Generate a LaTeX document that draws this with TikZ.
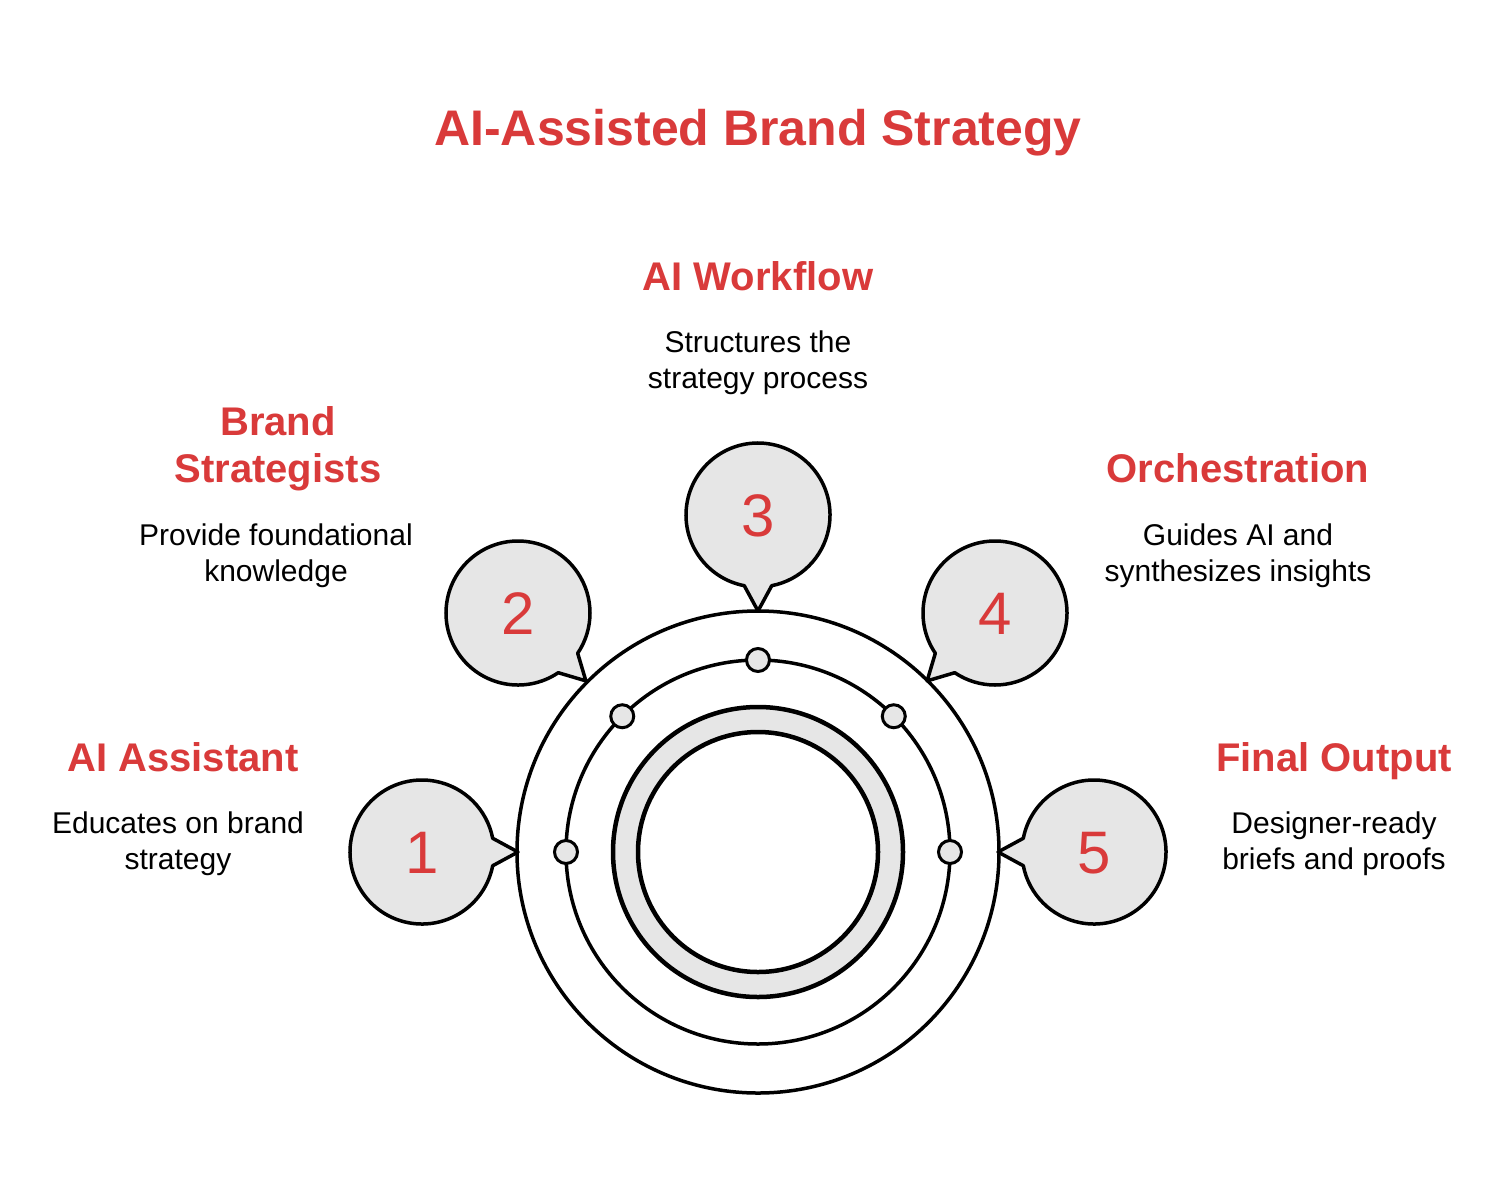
\documentclass[tikz,border=0pt]{standalone}
\usepackage{fontspec}
\setmainfont{Liberation Sans}
\usetikzlibrary{calc}
\definecolor{brandred}{HTML}{D93A3A}
\definecolor{softgray}{HTML}{E6E6E6}
\begin{document}
\begin{tikzpicture}[x=1pt,y=-1pt,
  ring/.style={draw=black,line width=3.5pt},
  bubblestyle/.style={draw=black,fill=softgray,line width=3.5pt,line join=round},
  dotstyle/.style={circle,draw=black,fill=softgray,line width=3pt,minimum size=23pt,inner sep=0pt},
  numstyle/.style={text=brandred,font=\fontsize{60}{60}\selectfont,anchor=base,inner sep=0pt},
  titlestyle/.style={text=brandred,font=\bfseries\fontsize{50}{60}\selectfont,anchor=base,inner sep=0pt},
  headstyle/.style={text=brandred,font=\bfseries\fontsize{40}{47}\selectfont,anchor=base,inner sep=0pt},
  bodystyle/.style={text=black,font=\fontsize{30}{36}\selectfont,anchor=base,inner sep=0pt}]
\fill[white] (0,0) rectangle (1504,1189);
\useasboundingbox (0,0) rectangle (1504,1189);

% centre rings
\coordinate (C) at (758,852);
\draw[ring] (C) circle[radius=241];
\draw[ring] (C) circle[radius=192];
\path[fill=softgray,even odd rule] (C) circle[radius=145] (C) circle[radius=120];
\draw[line width=4.5pt] (C) circle[radius=145];
\draw[line width=4.5pt] (C) circle[radius=120];

% dots on the middle ring
\foreach \a/\n in {180/d1,225/d2,270/d3,315/d4,360/d5}
  \node[dotstyle] (\n) at ($(C)+(\a:192)$) {};

% speech bubbles
\newcommand\speechbubble[5]{% name, x, y, direction angle, number
  \coordinate (#1) at (#2,#3);
  \draw[bubblestyle] (#1) ++(#4+11:72) arc[start angle=#4+11,end angle=#4+349,radius=72]
     -- ($(#1)+(#4:96)$) -- cycle;
  \node[numstyle] (#1n) at ($(#1)+(0,21.5)$) {#5};
}
\speechbubble{b1}{422}{852}{0}{1}
\speechbubble{b2}{518}{613}{45}{2}
\speechbubble{b3}{758}{515}{90}{3}
\speechbubble{b4}{995}{613}{135}{4}
\speechbubble{b5}{1094}{852}{180}{5}

% title
\node[titlestyle] (title) at (758,145) {AI-Assisted Brand Strategy};

% step 3
\node[headstyle] (h3) at (758,290) {AI Workflow};
\node[bodystyle] (t3a) at (758,352) {Structures the};
\node[bodystyle] (t3b) at (758,388) {strategy process};

% step 2
\node[headstyle] (h2a) at (278,435) {Brand};
\node[headstyle] (h2b) at (278,482) {Strategists};
\node[bodystyle] (t2a) at (276,545) {Provide foundational};
\node[bodystyle] (t2b) at (276,581) {knowledge};

% step 4
\node[headstyle] (h4) at (1238,482) {Orchestration};
\node[bodystyle] (t4a) at (1238,545) {Guides AI and};
\node[bodystyle] (t4b) at (1238,581) {synthesizes insights};

% step 1
\node[headstyle] (h1) at (183,771) {AI Assistant};
\node[bodystyle] (t1a) at (178,833) {Educates on brand};
\node[bodystyle] (t1b) at (178,869) {strategy};

% step 5
\node[headstyle] (h5) at (1334,771) {Final Output};
\node[bodystyle] (t5a) at (1334,833) {Designer-ready};
\node[bodystyle] (t5b) at (1334,869) {briefs and proofs};
\end{tikzpicture}
\end{document}
